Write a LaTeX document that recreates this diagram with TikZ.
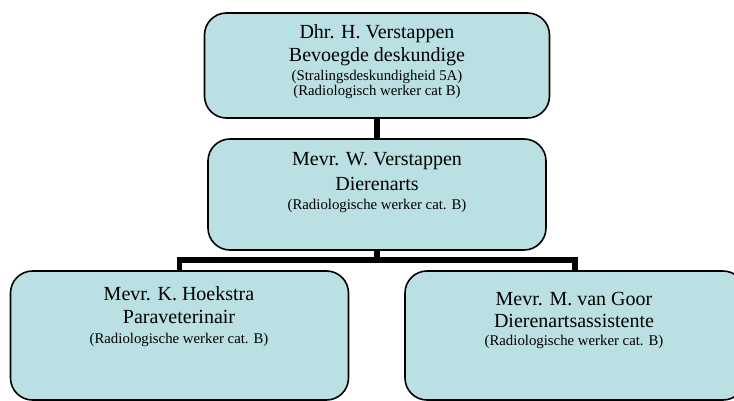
\documentclass[tikz,border=0pt]{standalone}
\usepackage{fontspec}
\setmainfont{Liberation Serif}
\definecolor{boxfill}{RGB}{186,224,227}
\begin{document}
\begin{tikzpicture}[x=1pt,y=-1pt,
  box/.style={draw=black, line width=1.6pt, fill=boxfill, rounded corners=22pt, inner sep=0pt},
  big/.style={font=\fontsize{20}{23}\selectfont, anchor=base, inner sep=0pt},
  small/.style={font=\fontsize{14.8}{15}\selectfont, anchor=base, inner sep=0pt},
  conn/.style={line width=5.5pt, line cap=butt, line join=miter},
]
\useasboundingbox (0,0) rectangle (734,401);
\clip (0,0) rectangle (734,401);
% boxes
\node[box, minimum width=345pt, minimum height=105pt] (top) at (377,65.5) {};
\node[box, minimum width=338pt, minimum height=111pt] (mid) at (377,194.5) {};
\node[box, minimum width=338pt, minimum height=129pt] (ll) at (179.5,335.5) {};
\node[box, minimum width=340pt, minimum height=129pt] (lr) at (575,335.5) {};
% connectors
\coordinate (bus) at (377,260);
\draw[conn] (top.south) -- (mid.north);
\draw[conn] (mid.south) -- (bus);
\draw[conn] (ll.north) |- (bus) -| (lr.north);
% texts
\node[big] (t1a) at (377,39) {Dhr. H. Verstappen};
\node[big] (t1b) at (377,62) {Bevoegde deskundige};
\node[small] (t1c) at (377,81) {(Stralingsdeskundigheid 5A)};
\node[small] (t1d) at (377,95.5) {(Radiologisch werker cat B)};
\node[big] (t2a) at (377,166) {Mevr. W. Verstappen};
\node[big] (t2b) at (377,191) {Dierenarts};
\node[small] (t2c) at (377,210) {(Radiologische werker cat. B)};
\node[big] (t3a) at (179,300) {Mevr. K. Hoekstra};
\node[big] (t3b) at (179,323) {Paraveterinair};
\node[small] (t3c) at (179,343) {(Radiologische werker cat. B)};
\node[big] (t4a) at (574,305) {Mevr. M. van Goor};
\node[big] (t4b) at (574,327) {Dierenartsassistente};
\node[small] (t4c) at (574,345) {(Radiologische werker cat. B)};
\end{tikzpicture}
\end{document}
